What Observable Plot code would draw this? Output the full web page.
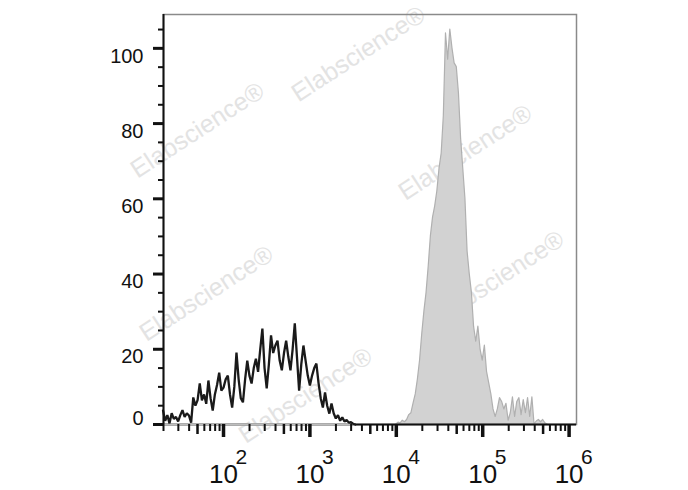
<!DOCTYPE html>
<html>
<head>
<meta charset="utf-8">
<script src="https://cdn.jsdelivr.net/npm/d3@7"></script>
<script src="https://cdn.jsdelivr.net/npm/@observablehq/plot@0.6"></script>
<style>
  html, body { margin: 0; padding: 0; background: #ffffff; }
  #chart { width: 688px; height: 490px; }
</style>
</head>
<body>
<div id="chart"></div>
<script>
// ---- Data ----
// Histogram channels on a log10 axis: start (log10) and bin width (log10)
const binStep = 0.025;
const blackLogStart = 1.30;
const blackCounts = [3.7,1,2.5,0.3,3,1.5,2,0.8,2.5,3.8,
  2,3,2.4,0.5,7.2,5,6.5,10.9,6.4,8,
  5.5,11.7,7,3.7,8,10.5,13.8,9,9.8,12,
  13,8,4.5,10,19.1,12,7,5.9,12,17,
  13,10.9,15,17.5,14,20,25.5,15,9.6,16,
  23.7,19,21,22.3,17,14.4,19,22.3,18,14.4,
  20,26.9,18,9,16,21,17,13,10.4,13,
  15,16.2,11,7,4.5,8.5,5,2.9,5.6,3,
  1.6,2.5,1,1.9,0.8,1.2,0.5,0.6,0.2,0];

const grayLogStart = 4.0;
const grayCounts = [0,0.5,0.3,1,0.6,1.2,2.5,3,5.6,8,
  12,17,24,30,35,42,50,55,58,62,
  68,72,82,104,97,105,100,96,95,88,
  76,68,60,46,40,35,26,22,26,20,
  17,21,14,11,8,4,2,4,7,6,
  4,5.5,1,3,7.2,2,6,7,2.5,6.5,
  3,7,2,7.2,0,0.8,1.2,0.6,1.2,0.3,
  0];

// Axes
const xDomain = [20.2, 1.218e6];
const yDomain = [0, 109];
const xMajor = [1e2, 1e3, 1e4, 1e5, 1e6];
const xBaseLabel = "10";
const xExponents = ["2", "3", "4", "5", "6"];
const yMajor = [0, 20, 40, 60, 80, 100];
const yLabels = ["0", "20", "40", "60", "80", "100"];
const yMinorStep = 5;

// Watermark
const wmText = "Elabscience®";
const wmX = [3650, 50, 63000, 148000, 63.5, 890];
const wmY = [98.5, 78.2, 72.3, 38.8, 34.8, 7.7];

// ---- Derived ----
const blackData = blackCounts.map((v, i) => ({x: 10 ** (blackLogStart + i * binStep), y: v}));
const grayData = grayCounts.map((v, i) => ({x: 10 ** (grayLogStart + i * binStep), y: v}));
const blackEnd = blackData[blackData.length - 1].x;

const xMid = [], xMinor = [];
for (let e = 1; e <= 5; e++) {
  for (let m = 2; m <= 9; m++) {
    const v = m * 10 ** e;
    if (v < xDomain[0] - 1e-9 || v > xDomain[1]) continue;
    if (m === 5) xMid.push(v); else xMinor.push(v);
  }
}
const yMinor = d3.range(yMinorStep, yDomain[1], yMinorStep).filter(v => v % 20 !== 0);

const font = "Liberation Sans, Arial, Helvetica, sans-serif";

const plot = Plot.plot({
  width: 688,
  height: 490,
  marginTop: 14,
  marginBottom: 66,
  marginLeft: 163,
  marginRight: 112,
  style: {background: "#ffffff", fontFamily: font, color: "#111"},
  x: {type: "log", domain: xDomain, label: null},
  y: {domain: yDomain, label: null},
  marks: [
    Plot.text(wmX, {x: d => d, y: (d, i) => wmY[i], text: () => wmText, rotate: -33,
      fill: "#e3e3e3", fontSize: 25, fontFamily: font}),
    Plot.frame({stroke: "#8a8a8a", strokeWidth: 1.5}),
    Plot.areaY(grayData, {x: "x", y: "y", fill: "#d2d2d2", stroke: "#b0b0b0", strokeWidth: 1.2}),
    Plot.ruleY([0], {stroke: "#111", strokeWidth: 2}),
    Plot.ruleY([0], {x1: xDomain[0], x2: blackEnd, stroke: "#bdbdbd", strokeWidth: 2.5}),
    Plot.lineY(blackData, {x: "x", y: "y", stroke: "#1a1a1a", strokeWidth: 2.3, strokeLinejoin: "miter"}),
    Plot.ruleX([xDomain[0]], {stroke: "#111", strokeWidth: 2}),
    // y ticks
    Plot.axisY(yMajor, {tickSize: 10, strokeWidth: 3, stroke: "#111", tickFormat: () => "", label: null}),
    Plot.axisY(yMinor, {tickSize: 5, strokeWidth: 2, stroke: "#111", tickFormat: () => "", label: null}),
    // x ticks
    Plot.axisX(xMajor, {tickSize: 13, strokeWidth: 3.5, stroke: "#111", tickFormat: () => "", label: null}),
    Plot.axisX(xMid, {tickSize: 10, strokeWidth: 2.5, stroke: "#111", tickFormat: () => "", label: null}),
    Plot.axisX([xDomain[0], ...xMinor], {tickSize: 7, strokeWidth: 2, stroke: "#111", tickFormat: () => "", label: null}),
    // y labels
    Plot.text(yMajor.slice(1), {y: d => d, frameAnchor: "left", text: (d, i) => yLabels[i + 1],
      textAnchor: "end", lineAnchor: "top", dx: -20, fontSize: 20, fill: "#111", fontFamily: font}),
    Plot.text(yMajor.slice(0, 1), {y: d => d, frameAnchor: "left", text: (d, i) => yLabels[i],
      textAnchor: "end", lineAnchor: "bottom", dx: -20, fontSize: 20, fill: "#111", fontFamily: font}),
    // x labels: 10 with superscript exponent
    Plot.text(xMajor, {x: d => d, frameAnchor: "bottom", text: () => xBaseLabel, textAnchor: "middle",
      lineAnchor: "bottom", dy: 58, fontSize: 26, fill: "#111",
      fontFamily: "Liberation Sans Narrow, Liberation Sans, Arial, sans-serif"}),
    Plot.text(xMajor, {x: d => d, frameAnchor: "bottom", text: (d, i) => xExponents[i], textAnchor: "start",
      lineAnchor: "bottom", dx: 12, dy: 39, fontSize: 21, fill: "#111", fontFamily: font})
  ]
});
document.getElementById("chart").appendChild(plot);
</script>
</body>
</html>
